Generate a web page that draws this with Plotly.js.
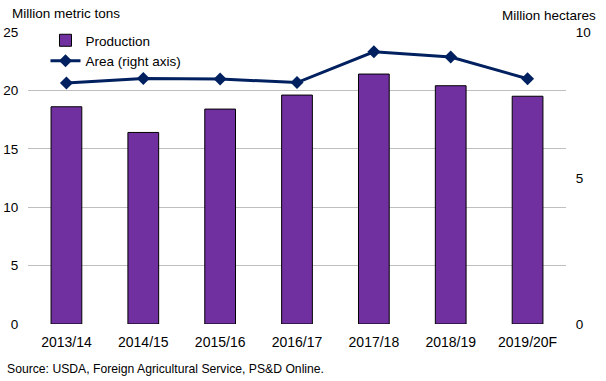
<!DOCTYPE html>
<html><head><meta charset="utf-8">
<script src="https://cdn.plot.ly/plotly-3.0.1.min.js"></script>
<style>html,body{margin:0;padding:0;background:#fff}#chart{width:606px;height:381px}</style>
</head><body><div id="chart"></div>
<script>
const categories = ["2013/14","2014/15","2015/16","2016/17","2017/18","2018/19","2019/20F"];
const production = [18.6, 16.4, 18.4, 19.6, 21.4, 20.4, 19.5];
const area = [8.25, 8.41, 8.39, 8.27, 9.32, 9.14, 8.40];
const leftTicks = [0,5,10,15,20,25];
const rightTicks = [0,5,10];

const fam = "Liberation Sans, Arial, sans-serif";
const font = {family: fam, size: 13.5, color: "#000"};
const traces = [
  {type: "bar", x: categories, y: production, name: "Production",
   marker: {color: "#7030A0", line: {color: "#000", width: 1}}, width: 0.40},
  {type: "scatter", mode: "lines+markers", x: categories, y: area, yaxis: "y2", name: "Area (right axis)",
   line: {color: "#002060", width: 3}, marker: {symbol: "diamond", size: 10, color: "#002060"}}
];
const layout = {
  width: 606, height: 381,
  margin: {l: 28, r: 40, t: 32, b: 57},
  paper_bgcolor: "#fff", plot_bgcolor: "#fff",
  font: font,
  showlegend: true,
  legend: {x: 0.0325, y: 1.024, xanchor: "left", yanchor: "top", bgcolor: "rgba(0,0,0,0)", font: font},
  xaxis: {tickfont: {family: fam, size: 14, color: "#000"}, showgrid: false, zeroline: false, showline: false,
          ticks: "outside", ticklen: 5, tickcolor: "rgba(0,0,0,0)", automargin: false},
  yaxis: {range: [0, 25], tickvals: leftTicks, tickfont: font, gridcolor: "#BFBFBF", gridwidth: 1,
          zeroline: false, showline: false, ticks: "outside", ticklen: 6, tickcolor: "rgba(0,0,0,0)", automargin: false},
  yaxis2: {range: [0, 10], tickvals: rightTicks, overlaying: "y", side: "right", showgrid: false,
           zeroline: false, showline: false, tickfont: font, ticks: "outside", ticklen: 6, tickcolor: "rgba(0,0,0,0)", automargin: false},
  annotations: [
    {text: "Million metric tons", xref: "paper", yref: "paper", x: -0.0335, y: 1.062, xanchor: "left", yanchor: "middle", showarrow: false, font: font},
    {text: "Million hectares", xref: "paper", yref: "paper", x: 1.0595, y: 1.056, xanchor: "right", yanchor: "middle", showarrow: false, font: font},
    {text: "Source: USDA, Foreign Agricultural Service, PS&D Online.", xref: "paper", yref: "paper", x: -0.0428, y: -0.154, xanchor: "left", yanchor: "middle", showarrow: false, font: {family: fam, size: 12.2, color: "#000"}}
  ]
};
Plotly.newPlot("chart", traces, layout, {displayModeBar: false, staticPlot: true});
</script></body></html>
